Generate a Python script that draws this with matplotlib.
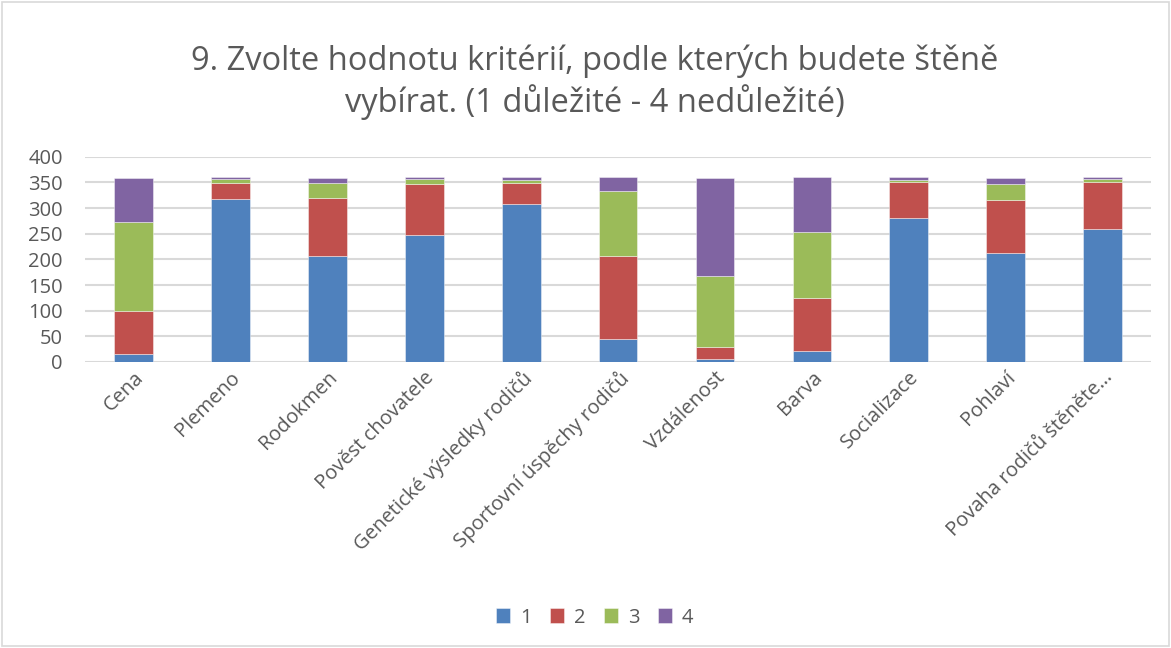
import numpy as np
import matplotlib
matplotlib.use("Agg")
import matplotlib.pyplot as plt
from matplotlib.patches import Rectangle

# data
kategorie = ["Cena", "Plemeno", "Rodokmen", "Pověst chovatele",
             "Genetické výsledky rodičů", "Sportovní úspěchy rodičů",
             "Vzdálenost", "Barva", "Socializace", "Pohlaví",
             "Povaha rodičů štěněte…"]
hodnota_1 = [16, 318, 206, 247, 307, 45, 6, 21, 280, 212, 260]
hodnota_2 = [83, 30, 114, 99, 41, 161, 23, 103, 70, 103, 91]
hodnota_3 = [173, 9, 29, 11, 7, 128, 139, 130, 5, 31, 6]
hodnota_4 = [87, 3, 10, 3, 5, 26, 191, 106, 5, 13, 3]
serie_nazvy = ["1", "2", "3", "4"]
barvy = ["#4F81BD", "#C0504D", "#9BBB59", "#8064A2"]

plt.rcParams['font.family'] = ['Open Sans', 'DejaVu Sans']
text_barva = "#595959"

fig = plt.figure(figsize=(11.71, 6.48), dpi=100)
ax = fig.add_axes([0.0726, 0.4414, 0.9104, 0.3167])

x = np.arange(len(kategorie))
dole = np.zeros(len(kategorie))
for hodnoty, jmeno, barva in zip([hodnota_1, hodnota_2, hodnota_3, hodnota_4], serie_nazvy, barvy):
    ax.bar(x, hodnoty, 0.4, bottom=dole, color=barva, label=jmeno,
           edgecolor=(1, 1, 1, 0.5), linewidth=0.6, zorder=3)
    dole = dole + np.array(hodnoty)

ax.set_xlim(-0.5, len(kategorie) - 0.5)
ax.set_ylim(0, 400)
ax.set_yticks(range(0, 401, 50))
ax.yaxis.grid(True, color="#d9d9d9", linewidth=1.5, zorder=0)
ax.set_axisbelow(True)
for s in ax.spines.values():
    s.set_visible(False)
ax.tick_params(axis='both', length=0, labelsize=14.5, colors=text_barva)
ax.tick_params(axis='y', pad=16)
ax.tick_params(axis='x', pad=4)
ax.set_xticks(x)
ax.set_xticklabels(kategorie, rotation=45, ha='right', rotation_mode='anchor')

fig.text(0.508, 0.873, "9. Zvolte hodnotu kritérií, podle kterých budete štěně\nvybírat. (1 důležité - 4 nedůležité)",
         ha='center', va='center', fontsize=23.5, color=text_barva, linespacing=1.25)

leg = fig.legend(loc='center', bbox_to_anchor=(0.508, 0.047), ncol=4, frameon=False,
                 fontsize=14.5, handlelength=0.7, handleheight=0.7, columnspacing=0.9,
                 handletextpad=0.5)
for t in leg.get_texts():
    t.set_color(text_barva)

fig.patches.append(Rectangle((0.002, 0.003), 0.996, 0.994, transform=fig.transFigure,
                             fill=False, edgecolor="#d9d9d9", linewidth=1.2))

fig.savefig("out.png", dpi=100, facecolor="white")
